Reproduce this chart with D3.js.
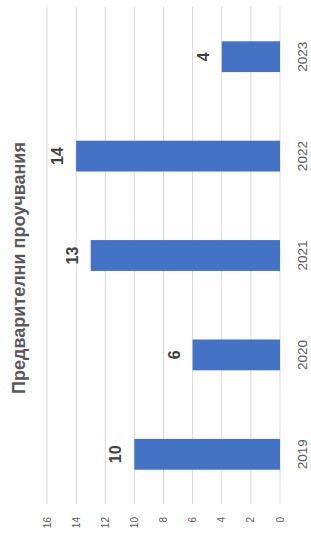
<!DOCTYPE html>
<html>
<head>
<meta charset="utf-8">
<script src="https://cdn.jsdelivr.net/npm/d3@7"></script>
<style>
  body { margin: 0; background: #fff; }
  svg { display: block; font-family: "Liberation Sans", Arial, sans-serif; }
</style>
</head>
<body>
<div id="chart"></div>
<script>
const years = ["2019", "2020", "2021", "2022", "2023"];
const values = [10, 6, 13, 14, 4];
const ticks = [0, 2, 4, 6, 8, 10, 12, 14, 16];
const title = "Предварителни проучвания";

const pageW = 311;
const pageH = 535;

// the chart is drawn upright in a 535 x 311 frame, then turned a quarter turn
const svg = d3.select("#chart")
    .append("svg")
    .attr("width", pageW)
    .attr("height", pageH);

const g = svg.append("g")
    .attr("transform", "translate(0," + pageH + ") rotate(-90)");

const x = d3.scaleBand()
    .domain(years)
    .range([31, 528])
    .paddingInner(0.69)
    .paddingOuter(0.345);

const y = d3.scaleLinear()
    .domain([0, 16])
    .range([280, 47]);

// gridlines
g.selectAll(".grid")
    .data(ticks)
    .enter()
    .append("line")
    .attr("x1", 31)
    .attr("x2", 528)
    .attr("y1", d => y(d))
    .attr("y2", d => y(d))
    .attr("stroke", "#d9d9d9")
    .attr("stroke-width", 1);

// value axis labels
g.selectAll(".tick-label")
    .data(ticks)
    .enter()
    .append("text")
    .attr("x", 18)
    .attr("y", d => y(d))
    .attr("dy", "0.35em")
    .attr("text-anchor", "end")
    .style("font-size", "10px")
    .style("fill", "#595959")
    .text(d => d);

// bars
g.selectAll(".bar")
    .data(values)
    .enter()
    .append("rect")
    .attr("x", (d, i) => x(years[i]))
    .attr("width", x.bandwidth())
    .attr("y", d => y(d))
    .attr("height", d => y(0) - y(d))
    .attr("fill", "#4472c4");

// value labels
g.selectAll(".value")
    .data(values)
    .enter()
    .append("text")
    .attr("x", (d, i) => x(years[i]) + x.bandwidth() / 2)
    .attr("y", d => y(d) - 13)
    .attr("text-anchor", "middle")
    .style("font-size", "16px")
    .style("font-weight", "bold")
    .style("fill", "#404040")
    .text(d => d);

// category labels
g.selectAll(".year")
    .data(years)
    .enter()
    .append("text")
    .attr("x", d => x(d) + x.bandwidth() / 2)
    .attr("y", 307)
    .attr("text-anchor", "middle")
    .style("font-size", "13.5px")
    .style("fill", "#595959")
    .text(d => d);

// title
g.append("text")
    .attr("x", 267)
    .attr("y", 25)
    .attr("text-anchor", "middle")
    .style("font-size", "18px")
    .style("font-weight", "bold")
    .style("fill", "#595959")
    .text(title);
</script>
</body>
</html>
